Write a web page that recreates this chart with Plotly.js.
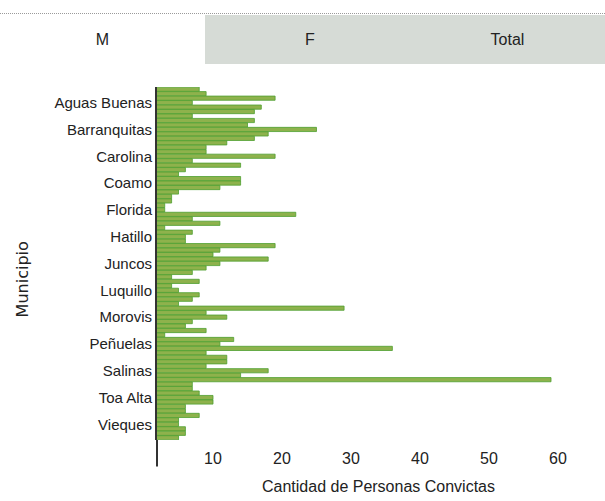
<!DOCTYPE html>
<html>
<head>
<meta charset="utf-8">
<script src="https://cdn.plot.ly/plotly-3.0.1.min.js"></script>
<style>
  html, body { margin: 0; padding: 0; background: #ffffff; }
  #wrap { position: relative; width: 605px; height: 501px; overflow: hidden; }
  #chart { position: absolute; left: 0; top: 0; width: 605px; height: 501px; }
  .topline { position: absolute; left: 0; top: 13px; width: 605px; height: 0; border-top: 1px dotted #9a9a9a; }
  .tab { position: absolute; top: 15px; height: 49px; line-height: 49px; text-align: center;
         font-family: "Liberation Sans", sans-serif; font-size: 16px; color: #222; }
  #tabM { left: 0; width: 210px; background: #ffffff; }
  #tabF { left: 205px; width: 210px; background: #d6dbd6; }
  #tabT { left: 410px; width: 195px; background: #d6dbd6; }
</style>
</head>
<body>
<div id="wrap">
  <div id="chart"></div>
  <div class="topline"></div>
  <div class="tab" id="tabF">F</div>
  <div class="tab" id="tabT">Total</div>
  <div class="tab" id="tabM" style="width:205px">M</div>
</div>
<script>
// Municipios (orden del gráfico, de arriba hacia abajo)
var municipios = [
  "Adjuntas","Aguada","Aguadilla","Aguas Buenas","Aibonito","Arecibo","Arroyo","Añasco",
  "Barceloneta","Barranquitas","Bayamón","Cabo Rojo","Caguas","Camuy","Canóvanas","Carolina",
  "Cataño","Cayey","Ceiba","Ciales","Cidra","Coamo","Comerío","Corozal","Culebra","Dorado",
  "Fajardo","Florida","Guayama","Guayanilla","Guaynabo","Gurabo","Guánica","Hatillo",
  "Hormigueros","Humacao","Isabela","Jayuya","Juana Díaz","Juncos","Lajas","Lares",
  "Las Marías","Las Piedras","Loíza","Luquillo","Manatí","Maricao","Maunabo","Mayagüez",
  "Moca","Morovis","Naguabo","Naranjito","Orocovis","Otros","Patillas","Peñuelas","Ponce",
  "Quebradillas","Rincón","Río Grande","Sabana Grande","Salinas","San Germán","San Juan",
  "San Lorenzo","San Sebastián","Santa Isabel","Toa Alta","Toa Baja","Trujillo Alto",
  "Utuado","Vega Alta","Vega Baja","Vieques","Villalba","Yabucoa","Yauco"
];

// Cantidad de personas convictas (M)
var convictosM = [
  8, 9, 19, 7, 17, 16, 7, 16,
  15, 25, 18, 16, 12, 9, 9, 19,
  7, 14, 6, 5, 14, 14, 11, 5, 4, 4,
  3, 3, 22, 7, 11, 3, 7, 6,
  6, 19, 11, 10, 18, 11, 9, 7,
  4, 8, 4, 5, 8, 7, 5, 29,
  9, 12, 7, 6, 9, 3, 13, 11, 36,
  9, 12, 12, 9, 18, 14, 59,
  7, 7, 8, 10, 10, 6,
  6, 8, 5, 5, 6, 6, 5
];

// Etiquetas visibles del eje Y
var etiquetasY = ["Aguas Buenas","Barranquitas","Carolina","Coamo","Florida","Hatillo",
  "Juncos","Luquillo","Morovis","Peñuelas","Salinas","Toa Alta","Vieques"];

// Marcas del eje X
var marcasX = [10, 20, 30, 40, 50, 60];

var sans = '"Liberation Sans", sans-serif';

var trace = {
  type: 'bar',
  orientation: 'h',
  x: convictosM,
  y: municipios,
  marker: { color: 'rgb(142,178,76)', line: { color: 'rgb(78,160,48)', width: 0.8 } },
  hoverinfo: 'x+y'
};

var layout = {
  width: 605, height: 501,
  margin: { l: 157, r: 5, t: 87, b: 61, pad: 0 },
  paper_bgcolor: '#ffffff', plot_bgcolor: '#ffffff',
  showlegend: false,
  bargap: 0.06,
  font: { family: sans, size: 15, color: '#222' },
  xaxis: {
    range: [1.88, 66.1],
    tickvals: marcasX,
    ticktext: marcasX.map(String),
    showgrid: false, zeroline: false, showline: false,
    ticks: 'outside', ticklen: 4, tickcolor: 'rgba(0,0,0,0)',
    tickfont: { family: sans, size: 16, color: '#222' },
    title: { text: 'Cantidad de Personas Convictas', font: { family: sans, size: 16, color: '#222' }, standoff: 14 }
  },
  yaxis: {
    type: 'category',
    categoryorder: 'array',
    categoryarray: municipios,
    range: [municipios.length - 0.5, -0.5],
    tickvals: etiquetasY,
    ticktext: etiquetasY,
    showgrid: false, zeroline: false,
    showline: true, linecolor: '#333', linewidth: 2,
    ticks: '',
    tickfont: { family: sans, size: 15, color: '#222' }
  },
  annotations: [
    { text: 'Municipio', xref: 'paper', yref: 'paper', x: 0, y: 0.455,
      xanchor: 'center', yanchor: 'middle', xshift: -135, textangle: -90, showarrow: false,
      font: { family: '"DejaVu Sans", sans-serif', size: 16, color: '#222' } }
  ],
  shapes: [
    { type: 'line', xref: 'paper', yref: 'paper', x0: 0, x1: 0, y0: 0, y1: -0.075,
      line: { color: '#333', width: 2 } }
  ]
};

Plotly.newPlot('chart', [trace], layout, { displayModeBar: false, staticPlot: true });
</script>
</body>
</html>
